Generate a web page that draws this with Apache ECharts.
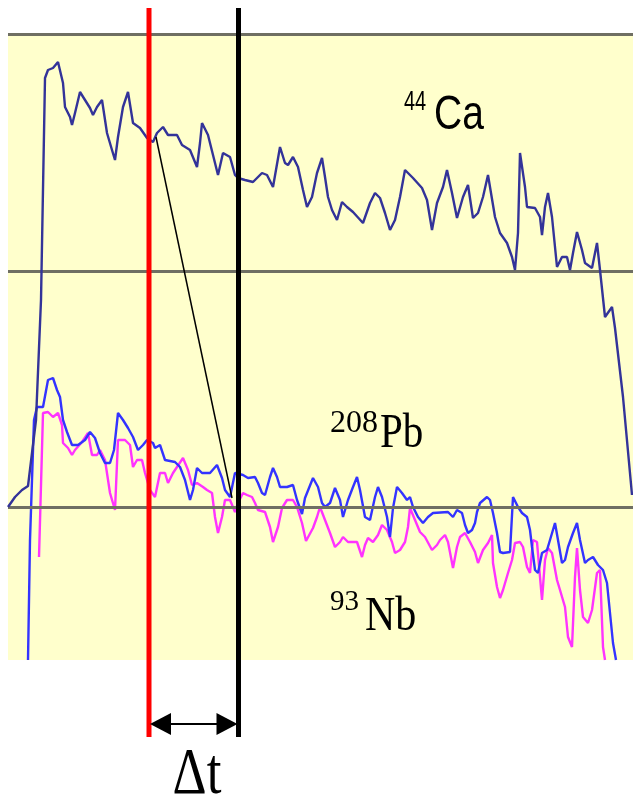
<!DOCTYPE html>
<html>
<head>
<meta charset="utf-8">
<script src="https://cdn.jsdelivr.net/npm/echarts@6/dist/echarts.min.js"></script>
<style>html,body{margin:0;padding:0;background:#fff}#c{width:633px;height:802px}</style>
</head>
<body>
<div id="c"></div>
<script>
// time in seconds, intensity in arbitrary units
const caData = [[0,153],[0.7,163],[1.4,170],[2.0,174],[2.8,240],[3.3,360],[3.7,582],[4.0,590],[4.5,592],[5.0,598],[5.5,577],[5.7,553],[6.2,543],[6.4,535],[6.7,547],[7.2,568],[7.7,560],[8.2,552],[8.5,545],[8.9,553],[9.4,560],[9.9,527],[10.4,510],[10.7,500],[11.0,523],[11.5,553],[12.0,568],[12.5,537],[13.2,532],[13.9,522],[14.5,518],[14.9,527],[15.5,533],[16.0,525],[16.9,525],[17.4,515],[18.2,510],[18.9,493],[19.2,517],[19.4,537],[20.0,525],[20.7,497],[21.0,485],[21.5,507],[22.2,503],[22.7,485],[23.0,482],[23.7,480],[24.5,478],[25.4,487],[25.9,485],[26.5,473],[27.2,513],[27.7,497],[28.0,495],[28.5,503],[29.0,493],[29.5,470],[29.9,453],[30.4,463],[30.9,487],[31.4,502],[31.7,483],[32.0,463],[32.4,450],[32.9,440],[33.4,458],[33.9,453],[34.5,448],[35.5,437],[36.2,457],[36.7,467],[37.2,462],[37.7,447],[38.2,430],[38.7,440],[39.2,463],[39.7,490],[40.5,482],[41.4,472],[41.9,460],[42.4,430],[42.9,457],[43.5,473],[43.9,490],[44.4,467],[44.9,442],[45.5,463],[46.0,475],[46.5,442],[47.0,447],[47.5,463],[48.0,485],[48.7,443],[49.2,427],[49.9,417],[50.4,403],[50.7,390],[51.0,427],[51.2,507],[51.7,473],[51.9,453],[52.7,452],[53.2,443],[53.4,425],[53.7,453],[54.0,467],[54.4,443],[54.9,393],[55.4,403],[55.9,403],[56.2,390],[56.5,407],[56.9,428],[57.4,410],[57.7,397],[58.4,392],[58.9,417],[59.2,390],[59.7,343],[60.4,353],[60.7,332],[61.5,263],[62.4,165]];

const pbData = [[2.0,0],[2.2,120],[2.6,240],[2.9,253],[3.5,253],[4.0,280],[4.5,282],[4.9,270],[5.2,263],[5.5,240],[5.9,228],[6.4,215],[7.0,215],[7.7,220],[8.2,228],[8.7,222],[9.2,207],[9.7,197],[10.2,197],[10.6,210],[11.0,247],[11.5,240],[12.0,232],[12.5,223],[13.0,210],[13.5,215],[13.9,220],[14.5,217],[14.7,212],[15.2,215],[15.7,200],[16.7,198],[17.2,193],[17.7,180],[18.2,160],[18.5,170],[18.9,192],[19.4,187],[20.2,187],[20.9,195],[21.4,182],[21.7,170],[22.2,163],[22.7,187],[23.5,185],[24.0,182],[24.7,183],[25.0,177],[25.4,167],[25.7,165],[26.2,183],[26.5,192],[26.9,183],[27.2,173],[27.9,173],[28.5,175],[28.9,160],[29.4,146],[29.7,162],[30.1,172],[30.5,182],[31.0,173],[31.4,157],[31.7,153],[32.2,157],[32.7,172],[33.2,160],[33.5,143],[34.0,160],[34.5,173],[34.9,183],[35.2,170],[35.7,143],[36.2,140],[36.7,163],[37.0,173],[37.4,163],[37.9,143],[38.2,123],[38.5,152],[38.9,173],[39.4,167],[39.9,160],[40.2,163],[40.5,153],[41.0,143],[41.5,137],[42.0,143],[42.5,147],[44.0,148],[44.5,143],[44.9,150],[45.4,147],[45.7,135],[46.0,127],[46.4,130],[46.7,137],[46.9,148],[47.2,157],[47.9,163],[48.2,160],[48.5,147],[48.9,127],[49.2,108],[49.5,107],[50.2,108],[50.5,163],[51.0,153],[51.4,147],[51.9,143],[52.2,130],[52.4,113],[52.7,90],[53.0,87],[53.4,107],[53.9,110],[54.2,120],[54.7,137],[55.0,120],[55.4,97],[55.7,100],[56.0,113],[56.5,127],[56.9,137],[57.2,120],[57.7,97],[58.0,100],[58.5,103],[59.0,95],[59.5,90],[59.9,77],[60.2,47],[60.5,17],[60.8,0]];

const nbData = [[3.1,103],[3.5,247],[4.0,248],[4.5,243],[5.0,247],[5.4,235],[5.5,217],[6.0,212],[6.4,205],[6.7,210],[7.4,218],[8.0,227],[8.4,205],[8.9,205],[9.2,210],[9.7,200],[10.2,167],[10.7,150],[11.0,220],[11.7,220],[12.2,215],[12.5,193],[12.9,200],[13.4,200],[13.7,187],[14.2,170],[14.7,163],[15.2,187],[15.7,187],[16.0,177],[16.5,187],[16.9,193],[17.5,202],[18.0,190],[18.4,175],[18.9,177],[19.5,173],[19.9,170],[20.4,167],[20.7,143],[21.0,127],[21.4,143],[21.7,160],[22.2,160],[22.7,148],[23.0,157],[23.5,167],[23.9,165],[24.4,163],[24.7,157],[25.0,150],[25.7,148],[26.2,133],[26.5,118],[27.0,133],[27.4,152],[27.9,160],[28.5,160],[28.9,153],[29.4,137],[29.8,119],[30.5,132],[30.9,143],[31.2,153],[31.7,140],[32.2,127],[32.7,113],[33.2,118],[33.5,123],[34.0,118],[34.9,118],[35.4,103],[35.7,115],[36.0,122],[36.5,118],[37.0,125],[37.4,135],[37.9,130],[38.4,118],[38.7,107],[39.2,110],[39.7,118],[40.0,133],[40.2,152],[40.7,140],[41.2,128],[41.7,123],[42.4,110],[42.9,115],[43.2,120],[43.7,125],[44.0,118],[44.5,92],[44.9,113],[45.2,123],[45.7,127],[46.2,118],[46.7,108],[47.0,97],[47.5,110],[48.0,117],[48.4,125],[48.5,97],[48.9,73],[49.2,62],[49.5,70],[50.0,87],[50.4,100],[50.7,117],[51.2,118],[51.5,113],[51.9,93],[52.2,87],[52.5,120],[52.9,118],[53.2,83],[53.4,60],[53.7,100],[54.0,112],[54.4,107],[54.9,80],[55.2,70],[55.7,53],[56.0,23],[56.4,13],[56.7,83],[56.9,112],[57.2,70],[57.5,43],[58.0,37],[58.4,50],[58.9,87],[59.2,90],[59.5,13],[59.7,0]];

const guideLine = [[14.8,523],[22.4,162]];
const levelLines = [153, 389, 626];
const redT = 14.1;
const blackT = 23.05;

const chart = echarts.init(document.getElementById('c'), null, {renderer:'canvas'});
chart.setOption({
  animation: false,
  grid: {left: 8, right: 0, top: 34, bottom: 142, show: true, backgroundColor: '#ffffcc', borderWidth: 0},
  xAxis: {type: 'value', min: 0, max: 62.5, show: false, splitLine: {show: false}},
  yAxis: {type: 'value', min: 0, max: 626, show: false, splitLine: {show: false}},
  series: [
    {type: 'line', name: 'levels', data: [], z: 1,
     markLine: {silent: true, symbol: 'none', label: {show: false},
       lineStyle: {color: '#6f6f63', width: 3, type: 'solid'},
       data: levelLines.map(v => ({yAxis: v}))}},
    {type: 'line', name: '93Nb', data: nbData, showSymbol: false, symbol: 'none',
     lineStyle: {color: '#ff33ff', width: 2.4}, z: 3},
    {type: 'line', name: '208Pb', data: pbData, showSymbol: false, symbol: 'none',
     lineStyle: {color: '#3333ff', width: 2.4}, z: 4},
    {type: 'line', name: '44Ca', data: caData, showSymbol: false, symbol: 'none',
     lineStyle: {color: '#333399', width: 2.4}, z: 5},
    {type: 'line', name: 'guide', data: guideLine, showSymbol: false, symbol: 'none',
     lineStyle: {color: '#000', width: 1.5}, z: 6}
  ]
});

const xr = chart.convertToPixel({gridIndex: 0}, [redT, 0])[0];
const xb = chart.convertToPixel({gridIndex: 0}, [blackT, 0])[0];
const ay = 724;
const serif = '"Liberation Serif", "Times New Roman", serif';
const sans = '"Liberation Sans", Arial, sans-serif';
function txt(t, x, y, size, fam, sy, align) {
  return {type: 'text', x: x, y: y, scaleY: sy, z: 120,
    style: {text: t, fontSize: size, fontFamily: fam, fill: '#000', align: align || 'left', verticalAlign: 'middle'}};
}
chart.setOption({
  graphic: [
    {type: 'line', z: 100, shape: {x1: xr, y1: 8, x2: xr, y2: 737}, style: {stroke: '#ff0000', lineWidth: 5}},
    {type: 'line', z: 100, shape: {x1: xb, y1: 8, x2: xb, y2: 737}, style: {stroke: '#000000', lineWidth: 5}},
    {type: 'line', z: 100, shape: {x1: xr + 20, y1: ay, x2: xb - 20, y2: ay}, style: {stroke: '#000', lineWidth: 2}},
    {type: 'polygon', z: 100, shape: {points: [[xr + 1, ay], [xr + 22, ay - 11], [xr + 22, ay + 11]]}, style: {fill: '#000'}},
    {type: 'polygon', z: 100, shape: {points: [[xb - 1, ay], [xb - 22, ay - 11], [xb - 22, ay + 11]]}, style: {fill: '#000'}},
    txt('Δt', 197, 776, 53, serif, 1.22, 'center'),
    txt('44', 404, 102, 20, sans, 1.4),
    txt('Ca', 434, 115.5, 39, sans, 1.25),
    txt('208', 330, 423.5, 32, serif, 1),
    txt('Pb', 380, 434, 41, serif, 1.2),
    txt('93', 330, 602.5, 29, serif, 1),
    txt('Nb', 365, 616.5, 42, serif, 1.18)
  ]
});
</script>
</body>
</html>
